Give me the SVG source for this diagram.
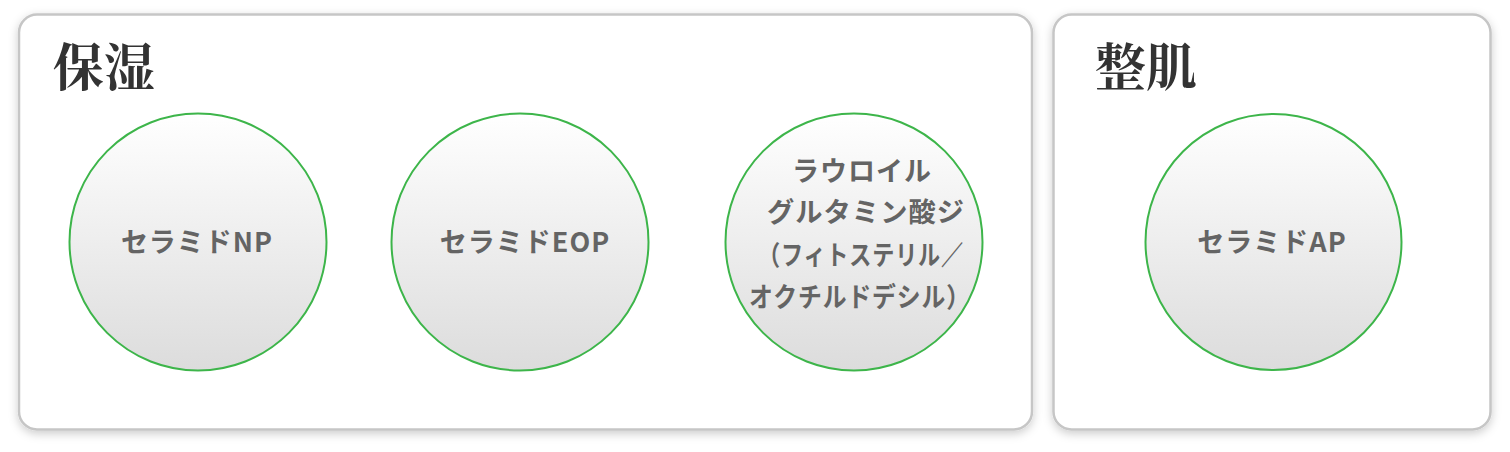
<svg xmlns="http://www.w3.org/2000/svg" width="1510" height="452" viewBox="0 0 1510 452">
  <defs>
    <linearGradient id="ball" x1="0" y1="0" x2="0" y2="1">
      <stop offset="0" stop-color="#ffffff"/>
      <stop offset="1" stop-color="#dcdcdc"/>
    </linearGradient>
    <filter id="shadow" x="-5%" y="-10%" width="110%" height="125%">
      <feDropShadow dx="0" dy="3" stdDeviation="5" flood-color="#000" flood-opacity="0.2"/>
    </filter>
  </defs>
  <style>
    .panel { fill: #ffffff; stroke: #c6c6c6; stroke-width: 2.5; filter: url(#shadow); }
    .title { font-family: "Noto Serif CJK JP", "Noto Sans CJK JP", serif; font-size: 51px; font-weight: bold; fill: #333333; }
    .ball { fill: url(#ball); stroke: #3db54a; stroke-width: 2; }
    .label { font-family: "Noto Sans CJK JP", "Noto Sans", sans-serif; font-size: 27px; font-weight: bold; fill: #646464; text-anchor: middle; letter-spacing: 1px; }
  </style>
  <rect width="1510" height="452" fill="#ffffff"/>

  <g id="panel-moisture">
    <rect class="panel" x="19" y="14.5" width="1013" height="415" rx="18" ry="18"/>
    <text class="title" x="53" y="86">保湿</text>
  </g>
  <g id="panel-skin">
    <rect class="panel" x="1053.5" y="14.5" width="437" height="415" rx="18" ry="18"/>
    <text class="title" x="1095" y="86">整肌</text>
  </g>

  <g id="connectors"></g>

  <g id="node-np">
    <circle class="ball" cx="198" cy="242" r="128.5"/>
    <text class="label" x="197" y="251.5">セラミドNP</text>
  </g>
  <g id="node-eop">
    <circle class="ball" cx="520" cy="242" r="128.5"/>
    <text class="label" x="525" y="251.5">セラミドEOP</text>
  </g>
  <g id="node-lauroyl">
    <circle class="ball" cx="854" cy="242" r="128.5"/>
    <text class="label" x="862" y="180.5" textLength="140" lengthAdjust="spacingAndGlyphs">ラウロイル</text>
    <text class="label" x="866" y="222" textLength="198" lengthAdjust="spacingAndGlyphs">グルタミン酸ジ</text>
    <text class="label" x="861" y="264.5" textLength="206" lengthAdjust="spacingAndGlyphs">（フィトステリル／</text>
    <text class="label" x="860" y="306.5" textLength="222" lengthAdjust="spacingAndGlyphs">オクチルドデシル）</text>
  </g>
  <g id="node-ap">
    <circle class="ball" cx="1273.5" cy="242" r="128"/>
    <text class="label" x="1272" y="251.5">セラミドAP</text>
  </g>
</svg>
